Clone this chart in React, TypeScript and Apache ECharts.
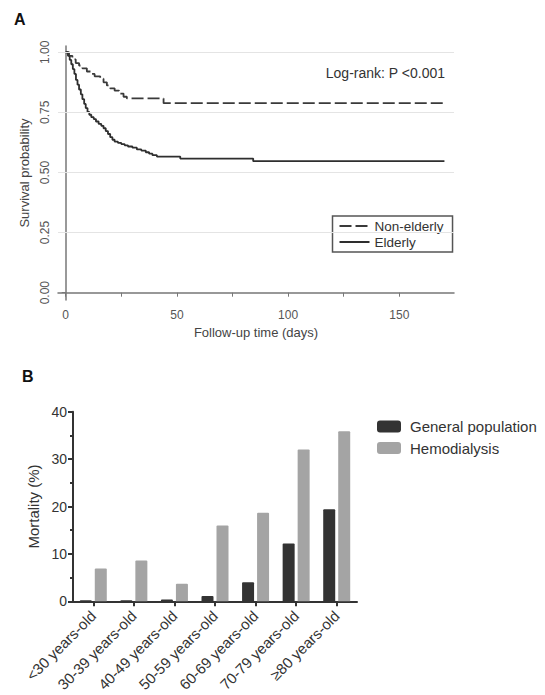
import { useEffect, useRef } from "react";
import * as echarts from "echarts";

// ---------- Panel A: Kaplan–Meier survival ----------
const nonElderlyDays = [0, 1.5, 3, 4.5, 6, 7.5, 9.5, 11.5, 13, 15.5, 17, 18.5, 20, 22, 24, 26, 27.5, 44, 170.3];
const nonElderlySurv = [1, 0.985, 0.97, 0.955, 0.945, 0.933, 0.92, 0.91, 0.9, 0.89, 0.875, 0.862, 0.85, 0.84, 0.828, 0.815, 0.808, 0.788, 0.788];

const elderlyDays = [0, 1, 1.8, 2.5, 3.2, 3.9, 4.6, 5.3, 6, 6.8, 7.5, 8.3, 9, 9.8, 10.6, 11.5, 12.6, 13.6, 14.8, 16, 17, 18, 19, 20, 21, 22, 23.5, 25, 26.5, 28, 30, 32, 34, 36, 37.5, 39, 41, 51.5, 84.3, 170.3];
const elderlySurv = [1, 0.985, 0.968, 0.95, 0.93, 0.91, 0.885, 0.865, 0.845, 0.825, 0.805, 0.785, 0.768, 0.752, 0.74, 0.73, 0.722, 0.712, 0.702, 0.694, 0.684, 0.672, 0.66, 0.647, 0.636, 0.628, 0.623, 0.618, 0.613, 0.608, 0.603, 0.596, 0.591, 0.584, 0.578, 0.572, 0.566, 0.558, 0.547, 0.547];

const survivalTicks = [0, 0.25, 0.5, 0.75, 1];
const survivalGridLines = [0.25, 0.5, 0.75, 1];
const dayLabelTicks = [0, 50, 100, 150];
const dayTickMarks = [0, 25, 50, 75, 100, 125, 150];

// ---------- Panel B: mortality by age ----------
const ageGroups = ["<30 years-old", "30-39 years-old", "40-49 years-old", "50-59 years-old", "60-69 years-old", "70-79 years-old", "≥80 years-old"];
const generalPopulation = [0.2, 0.2, 0.4, 1.1, 4.0, 12.2, 19.4];
const hemodialysis = [6.9, 8.6, 3.7, 16.0, 18.7, 32.0, 35.9];

const FONT = "'Liberation Sans', Arial, Helvetica, sans-serif";

export default function App() {
  const ref = useRef<HTMLDivElement>(null);

  useEffect(() => {
    if (!ref.current) return;
    const chart = echarts.init(ref.current, undefined, { renderer: "svg" });

    const pair = (xs: number[], ys: number[]) => xs.map((x, i) => [x, ys[i]]);

    const axisGrayA = "#777";
    const option: any = {
      animation: false,
      backgroundColor: "#fff",
      textStyle: { fontFamily: FONT },
      grid: [
        { left: 58, top: 46, width: 396, height: 254 },
        { left: 73, top: 411.7, width: 284, height: 189.6 },
      ],
      xAxis: [
        {
          gridIndex: 0,
          type: "value",
          min: -3.47,
          max: 174.6,
          name: "Follow-up time (days)",
          nameLocation: "middle",
          nameGap: 26,
          nameTextStyle: { fontSize: 13, color: "#444", fontFamily: FONT },
          axisLine: { show: true, lineStyle: { color: axisGrayA, width: 1.5 } },
          axisTick: { show: true, length: 4, customValues: dayTickMarks, lineStyle: { color: axisGrayA, width: 1 } },
          axisLabel: { customValues: dayLabelTicks, fontSize: 12, color: "#555", margin: 9, fontFamily: FONT },
          splitLine: { show: false },
        },
        {
          gridIndex: 1,
          type: "category",
          data: ageGroups,
          axisLine: { lineStyle: { color: "#333", width: 2 } },
          axisTick: { show: true, alignWithLabel: true, interval: 0, length: 5, lineStyle: { color: "#333", width: 2 } },
          axisLabel: { rotate: 45, interval: 0, fontSize: 15, color: "#333", margin: 12, fontFamily: FONT },
        },
      ],
      yAxis: [
        {
          gridIndex: 0,
          type: "value",
          min: -0.0304,
          max: 1.026,
          name: "Survival probability",
          nameLocation: "middle",
          nameGap: 25,
          nameTextStyle: { fontSize: 13, color: "#444", fontFamily: FONT },
          axisLine: { show: true, lineStyle: { color: axisGrayA, width: 1.5 } },
          axisTick: { show: true, length: 4, customValues: survivalTicks, lineStyle: { color: axisGrayA, width: 1 } },
          axisLabel: {
            customValues: survivalTicks,
            rotate: 90,
            fontSize: 12,
            color: "#555",
            margin: 7,
            fontFamily: FONT,
            formatter: (v: number) => v.toFixed(2),
          },
          splitLine: { show: false },
        },
        {
          gridIndex: 1,
          type: "value",
          min: 0,
          max: 40,
          interval: 10,
          name: "Mortality (%)",
          nameLocation: "middle",
          nameGap: 27,
          nameTextStyle: { fontSize: 15, color: "#333", fontFamily: FONT },
          axisLine: { show: true, lineStyle: { color: "#333", width: 2 } },
          axisTick: { show: true, length: 5, lineStyle: { color: "#333", width: 2 } },
          minorTick: { show: true, splitNumber: 2, length: 3, lineStyle: { color: "#333", width: 2 } },
          axisLabel: { fontSize: 14, color: "#333", margin: 6, fontFamily: FONT },
          splitLine: { show: false },
        },
      ],
      legend: [
        {
          data: ["Non-elderly", "Elderly"],
          orient: "vertical",
          left: 332.5,
          top: 216,
          padding: [3, 9, 3, 6],
          itemGap: 2,
          itemWidth: 30,
          itemHeight: 13,
          borderColor: "#555",
          borderWidth: 1.5,
          borderRadius: 0,
          itemStyle: { opacity: 0 },
          textStyle: { fontSize: 13.5, color: "#333", fontFamily: FONT },
        },
        {
          data: ["General population", "Hemodialysis"],
          orient: "vertical",
          left: 377,
          top: 419,
          padding: 0,
          itemGap: 6.5,
          itemWidth: 24,
          itemHeight: 12,
          icon: "roundRect",
          textStyle: { fontSize: 15, color: "#333", fontFamily: FONT, padding: [0, 0, 0, 4] },
        },
      ],
      graphic: [
        { type: "text", left: 14, top: 11, style: { text: "A", font: `bold 16px ${FONT}`, fill: "#111" } },
        { type: "text", left: 22, top: 368, style: { text: "B", font: `bold 16px ${FONT}`, fill: "#111" } },
        {
          type: "text",
          x: 445,
          y: 73,
          style: { text: "Log-rank: P <0.001", font: `14px ${FONT}`, fill: "#333", align: "right", verticalAlign: "middle" },
        },
      ],
      series: [
        {
          name: "Non-elderly",
          type: "line",
          xAxisIndex: 0,
          yAxisIndex: 0,
          step: "end",
          symbol: "none",
          data: pair(nonElderlyDays, nonElderlySurv),
          lineStyle: { color: "#3a3a3a", width: 1.8, type: [12, 4] },
          itemStyle: { color: "#3a3a3a" },
          markLine: {
            silent: true,
            symbol: ["none", "none"],
            label: { show: false },
            lineStyle: { color: "#e4e4e4", type: "solid", width: 1 },
            data: survivalGridLines.map((v) => ({ yAxis: v })),
          },
          z: 3,
        },
        {
          name: "Elderly",
          type: "line",
          xAxisIndex: 0,
          yAxisIndex: 0,
          step: "end",
          symbol: "none",
          data: pair(elderlyDays, elderlySurv),
          lineStyle: { color: "#2e2e2e", width: 1.8, type: "solid" },
          itemStyle: { color: "#2e2e2e" },
          z: 3,
        },
        {
          name: "General population",
          type: "bar",
          xAxisIndex: 1,
          yAxisIndex: 1,
          data: generalPopulation,
          barWidth: 12,
          barGap: "25%",
          itemStyle: { color: "#333333", borderRadius: [1, 1, 0, 0] },
        },
        {
          name: "Hemodialysis",
          type: "bar",
          xAxisIndex: 1,
          yAxisIndex: 1,
          data: hemodialysis,
          barWidth: 12,
          barGap: "25%",
          itemStyle: { color: "#a4a4a4", borderRadius: [1, 1, 0, 0] },
        },
      ],
    };

    chart.setOption(option);
    return () => chart.dispose();
  }, []);

  return (
    <div
      ref={ref}
      style={{ position: "fixed", left: 0, top: 0, width: 545, height: 695, background: "#fff" }}
    />
  );
}
